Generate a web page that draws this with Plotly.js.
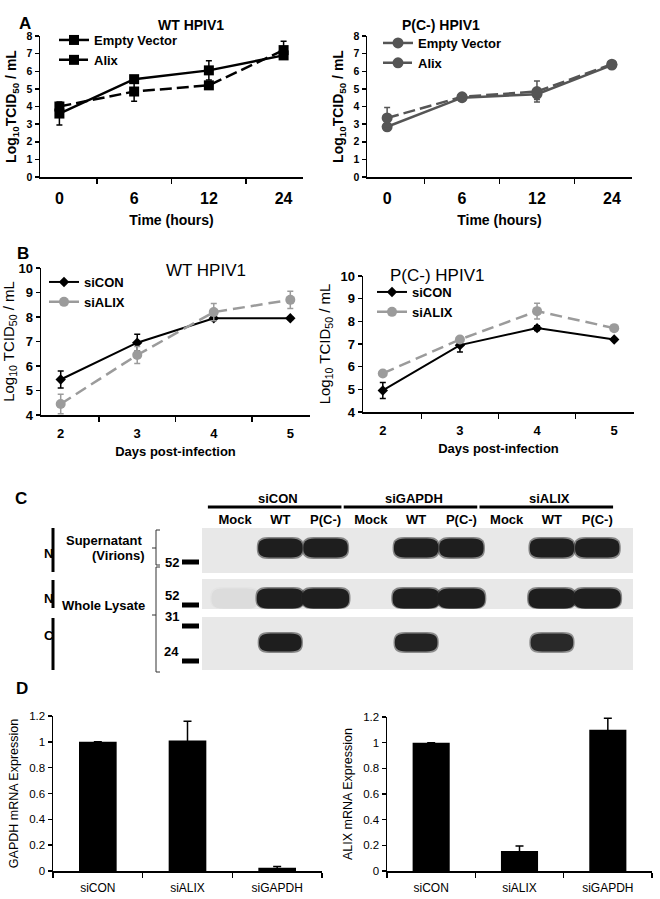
<!DOCTYPE html>
<html>
<head>
<meta charset="utf-8">
<script src="https://cdn.plot.ly/plotly-3.0.1.min.js"></script>
<style>
  html, body { margin: 0; padding: 0; background: #fff; }
  #fig { width: 660px; height: 899px; }
</style>
</head>
<body>
<div id="fig"></div>
<script>
// ---- data ----
// A: titres over time after transfection
var timeLabels = ["0", "6", "12", "24"];
var wtEmpty = [3.6, 5.55, 6.05, 6.9];
var wtEmptyErr = [0.65, 0.15, 0.55, 0.2];
var wtAlix = [4.0, 4.85, 5.2, 7.2];
var wtAlixErr = [0.2, 0.55, 0.1, 0.5];
var pcEmpty = [2.85, 4.5, 4.7, 6.35];
var pcEmptyErr = [0.15, 0.1, 0.3, 0.1];
var pcAlix = [3.35, 4.55, 4.85, 6.4];
var pcAlixErr = [0.6, 0.1, 0.6, 0.1];

// B: titres after siRNA knockdown
var dayLabels = ["2", "3", "4", "5"];
var wtSiCon = [5.45, 6.95, 7.95, 7.95];
var wtSiConErr = [0.35, 0.35, 0.05, 0.05];
var wtSiAlix = [4.45, 6.45, 8.2, 8.7];
var wtSiAlixErr = [0.4, 0.35, 0.35, 0.35];
var pcSiCon = [4.95, 6.95, 7.7, 7.2];
var pcSiConErr = [0.35, 0.3, 0.1, 0.05];
var pcSiAlix = [5.7, 7.2, 8.45, 7.7];
var pcSiAlixErr = [0.05, 0.05, 0.35, 0.05];

// C: western blot, band strength per lane (0 = no band)
var blotGroups = ["siCON", "siGAPDH", "siALIX"];
var laneLabels = ["Mock", "WT", "P(C-)", "Mock", "WT", "P(C-)", "Mock", "WT", "P(C-)"];
var supernatantN = [0, 1, 1, 0, 1, 1, 0, 1, 1];
var lysateN = [0.04, 1, 1, 0, 1, 1, 0, 1, 1];
var lysateC = [0, 1, 0, 0, 0.95, 0, 0, 0.9, 0];
var markerKDa = ["52", "52", "31", "24"];

// D: mRNA expression
var siRNA = ["siCON", "siALIX", "siGAPDH"];
var gapdhExpr = [1.0, 1.01, 0.025];
var gapdhErr = [0, 0.15, 0.01];
var alixExpr = [1.0, 0.155, 1.1];
var alixErr = [0, 0.04, 0.09];

// ---- helpers: pixel -> paper ----
var W = 660, H = 899;
function fx(p) { return p / W; }
function fy(p) { return 1 - p / H; }

var FONT = "Arial, 'Liberation Sans', sans-serif";
function bold(size) { return {family: FONT, size: size, color: "#000", weight: 700}; }
function reg(size) { return {family: FONT, size: size, color: "#000"}; }

function catAxis(dom, anchor, tfont, title, standoff) {
  return {
    domain: dom, anchor: anchor, type: "category",
    showline: true, linecolor: "#000", linewidth: 1.5,
    ticks: "outside", tickson: "boundaries", ticklen: 5, tickcolor: "#000", tickwidth: 1.5,
    ticklabelstandoff: standoff,
    showgrid: false, zeroline: false, tickfont: tfont,
    title: title, fixedrange: true
  };
}
function valAxis(dom, anchor, range, dtick, tfont, title) {
  return {
    domain: dom, anchor: anchor, range: range, dtick: dtick,
    showline: true, linecolor: "#000", linewidth: 1.5,
    ticks: "outside", ticklen: 4, tickcolor: "#000", tickwidth: 1.5,
    showgrid: false, zeroline: false, tickfont: tfont,
    title: title, fixedrange: true
  };
}

function lineTrace(x, y, err, name, xa, ya, leg, color, dash, symbol, size, width) {
  return {
    type: "scatter", mode: "lines+markers", x: x, y: y, name: name,
    xaxis: xa, yaxis: ya, legend: leg,
    line: {color: color, width: width, dash: dash},
    marker: {color: color, symbol: symbol, size: size},
    error_y: {type: "data", array: err, color: color, thickness: 1.5, width: 3}
  };
}

var traces = [
  lineTrace(timeLabels, wtEmpty, wtEmptyErr, "Empty Vector", "x", "y", "legend", "#000", "solid", "square", 10, 2.5),
  lineTrace(timeLabels, wtAlix, wtAlixErr, "Alix", "x", "y", "legend", "#000", "12px,5px", "square", 10, 2.5),
  lineTrace(timeLabels, pcEmpty, pcEmptyErr, "Empty Vector", "x2", "y2", "legend2", "#555", "solid", "circle", 11, 2.5),
  lineTrace(timeLabels, pcAlix, pcAlixErr, "Alix", "x2", "y2", "legend2", "#555", "12px,5px", "circle", 11, 2.5),
  lineTrace(dayLabels, wtSiCon, wtSiConErr, "siCON", "x3", "y3", "legend3", "#000", "solid", "diamond", 8, 2),
  lineTrace(dayLabels, wtSiAlix, wtSiAlixErr, "siALIX", "x3", "y3", "legend3", "#9b9b9b", "12px,6px", "circle", 10, 2.5),
  lineTrace(dayLabels, pcSiCon, pcSiConErr, "siCON", "x4", "y4", "legend4", "#000", "solid", "diamond", 8, 2),
  lineTrace(dayLabels, pcSiAlix, pcSiAlixErr, "siALIX", "x4", "y4", "legend4", "#9b9b9b", "12px,6px", "circle", 10, 2.5),
  {
    type: "bar", x: siRNA, y: gapdhExpr, xaxis: "x5", yaxis: "y5", showlegend: false,
    marker: {color: "#000"}, error_y: {type: "data", array: gapdhErr, color: "#000", thickness: 1.5, width: 4}
  },
  {
    type: "bar", x: siRNA, y: alixExpr, xaxis: "x6", yaxis: "y6", showlegend: false,
    marker: {color: "#000"}, error_y: {type: "data", array: alixErr, color: "#000", thickness: 1.5, width: 4}
  }
];

var yTitleA = {text: "Log<sub>10</sub>TCID<sub>50</sub> / mL", font: bold(14), standoff: 6};
var yTitleB = {text: "Log<sub>10</sub> TCID<sub>50</sub> / mL", font: reg(15), standoff: 6};

function legendAt(x, y, font) {
  return {x: fx(x), y: fy(y), xanchor: "left", yanchor: "top", bgcolor: "rgba(0,0,0,0)",
          font: font, tracegroupgap: 0, itemwidth: 30};
}

// ---- blot geometry (layout only) ----
var blotLeft = 202, blotRight = 633;
var blotRows = [
  {top: 528, bottom: 573, bandTop: 538, bandBottom: 558, half: 0.5, bands: supernatantN},
  {top: 579, bottom: 609, bandTop: 588, bandBottom: 609, half: 0.53, bands: lysateN},
  {top: 617, bottom: 670, bandTop: 633, bandBottom: 652, half: 0.48, bands: lysateC}
];

function stadium(xc, hw, y0, y1) {
  var r = 0.26, ym = (y0 + y1) / 2;
  var a = xc - hw, b = xc + hw;
  return "M" + (a + r) + "," + y0 + " L" + (b - r) + "," + y0 +
    " C" + (b - r * 0.1) + "," + y0 + " " + b + "," + (y0 + (ym - y0) * 0.45) + " " + b + "," + ym +
    " C" + b + "," + (y1 - (y1 - ym) * 0.45) + " " + (b - r * 0.1) + "," + y1 + " " + (b - r) + "," + y1 +
    " L" + (a + r) + "," + y1 +
    " C" + (a + r * 0.1) + "," + y1 + " " + a + "," + (y1 - (y1 - ym) * 0.45) + " " + a + "," + ym +
    " C" + a + "," + (y0 + (ym - y0) * 0.45) + " " + (a + r * 0.1) + "," + y0 + " " + (a + r) + "," + y0 + " Z";
}

var shapes = [];
var annotations = [];

blotRows.forEach(function (row) {
  shapes.push({type: "rect", xref: "paper", yref: "paper", x0: fx(blotLeft), x1: fx(blotRight),
               y0: fy(row.bottom), y1: fy(row.top), fillcolor: "#e8e8e8", line: {width: 0}, layer: "below"});
  row.bands.forEach(function (v, i) {
    if (v <= 0) return;
    // soft edge then dark core
    shapes.push({type: "path", xref: "x7", yref: "paper",
                 path: stadium(i, row.half + 0.02, fy(row.bandTop - 1), fy(Math.min(row.bandBottom + 1, row.bottom))),
                 fillcolor: "rgba(35,35,35," + (0.5 * v) + ")", line: {width: 0}});
    shapes.push({type: "path", xref: "x7", yref: "paper",
                 path: stadium(i, row.half - 0.01, fy(row.bandTop + 0.5), fy(row.bandBottom - 0.5)),
                 fillcolor: "rgba(30,30,30," + v + ")", line: {width: 0}});
  });
});

// group headers over the blot
blotGroups.forEach(function (g, k) {
  annotations.push({text: g, xref: "x7", yref: "paper", x: k * 3 + 0.95, y: fy(498),
                    showarrow: false, font: bold(13)});
  shapes.push({type: "line", xref: "x7", yref: "paper", x0: k * 3 - 0.6, x1: k * 3 + 2.35,
               y0: fy(507), y1: fy(507), line: {color: "#000", width: 3}});
});

// size markers
var markerY = [562, 605, 626, 661];
markerKDa.forEach(function (m, i) {
  annotations.push({text: m, xref: "paper", yref: "paper", x: fx(181), y: fy(markerY[i]),
                    xanchor: "right", showarrow: false, font: bold(13)});
  shapes.push({type: "rect", xref: "paper", yref: "paper", x0: fx(182), x1: fx(199),
               y0: fy(markerY[i] + 2.5), y1: fy(markerY[i] - 2.5), fillcolor: "#000", line: {width: 0}});
});

// left side labels and bars
[{t: "N", y: 553, a: 528, b: 572}, {t: "N", y: 598, a: 580, b: 608}, {t: "C", y: 645, a: 618, b: 670}]
  .forEach(function (s) {
    annotations.push({text: s.t, xref: "paper", yref: "paper", x: fx(42), y: fy(s.y),
                      showarrow: false, font: bold(13)});
    shapes.push({type: "line", xref: "paper", yref: "paper", x0: fx(53), x1: fx(53),
                 y0: fy(s.a), y1: fy(s.b), line: {color: "#000", width: 3}});
  });
annotations.push({text: "Supernatant", xref: "paper", yref: "paper", x: fx(145), y: fy(540),
                  xanchor: "right", showarrow: false, font: bold(13)});
annotations.push({text: "(Virions)", xref: "paper", yref: "paper", x: fx(147), y: fy(555),
                  xanchor: "right", showarrow: false, font: bold(13)});
annotations.push({text: "Whole Lysate", xref: "paper", yref: "paper", x: fx(147), y: fy(615),
                  xanchor: "right", showarrow: false, font: bold(13)});

// brackets
function bracket(top, mid, bottom) {
  var xl = fx(152), xm = fx(156), xr = fx(160);
  return "M" + xr + "," + fy(top) + " L" + xm + "," + fy(top) + " L" + xm + "," + fy(bottom) +
         " L" + xr + "," + fy(bottom) + " M" + xl + "," + fy(mid) + " L" + xm + "," + fy(mid);
}
shapes.push({type: "path", xref: "paper", yref: "paper", path: bracket(530, 548, 565), line: {color: "#333", width: 1}});
shapes.push({type: "path", xref: "paper", yref: "paper", path: bracket(567, 615, 672), line: {color: "#333", width: 1}});

// panel letters and subplot titles
[["A", 17, 12], ["B", 15, 242], ["C", 13, 498], ["D", 14, 700]].forEach(function (p) {
  annotations.push({text: p[0], xref: "paper", yref: "paper", x: fx(p[1]), y: fy(p[2]),
                    showarrow: false, font: bold(17)});
});
annotations.push({text: "WT HPIV1", xref: "paper", yref: "paper", x: fx(156), y: fy(15), showarrow: false, font: bold(14)});
annotations.push({text: "P(C-) HPIV1", xref: "paper", yref: "paper", x: fx(482), y: fy(15), showarrow: false, font: bold(14)});
annotations.push({text: "WT HPIV1", xref: "paper", yref: "paper", x: fx(164), y: fy(259), showarrow: false, font: reg(17)});
annotations.push({text: "P(C-) HPIV1", xref: "paper", yref: "paper", x: fx(486), y: fy(264), showarrow: false, font: reg(17)});

var layout = {
  width: W, height: H,
  margin: {l: 0, r: 0, t: 0, b: 0},
  paper_bgcolor: "#fff", plot_bgcolor: "rgba(0,0,0,0)",
  showlegend: true,
  bargap: 0.58,
  xaxis: catAxis([fx(40), fx(303)], "y", bold(16), {text: "Time (hours)", font: bold(14), standoff: 9}, 6),
  yaxis: valAxis([fy(177), fy(36)], "x", [0, 8], 1, bold(10.5), yTitleA),
  xaxis2: catAxis([fx(367), fx(632)], "y2", bold(16), {text: "Time (hours)", font: bold(14), standoff: 9}, 6),
  yaxis2: valAxis([fy(177), fy(36)], "x2", [0, 8], 1, bold(10.5), yTitleA),
  xaxis3: catAxis([fx(41), fx(310)], "y3", bold(13), {text: "Days post-infection", font: bold(13), standoff: 7}, 6),
  yaxis3: valAxis([fy(415), fy(268)], "x3", [4, 10], 1, bold(13), yTitleB),
  xaxis4: catAxis([fx(363), fx(634)], "y4", bold(13), {text: "Days post-infection", font: bold(13), standoff: 7}, 6),
  yaxis4: valAxis([fy(412), fy(276)], "x4", [4, 10], 1, bold(13), yTitleB),
  xaxis5: catAxis([fx(53), fx(322)], "y5", reg(12), {text: ""}, 5),
  yaxis5: valAxis([fy(871), fy(716)], "x5", [0, 1.2], 0.2, reg(11.5),
                  {text: "GAPDH mRNA Expression", font: reg(12.5), standoff: 8}),
  xaxis6: catAxis([fx(387), fx(652)], "y6", reg(12), {text: ""}, 5),
  yaxis6: valAxis([fy(871), fy(717)], "x6", [0, 1.2], 0.2, reg(11.5),
                  {text: "ALIX mRNA Expression", font: reg(12.5), standoff: 8}),
  xaxis7: {domain: [fx(blotLeft), fx(blotRight)], anchor: "y7", range: [-0.73, 8.79], side: "top",
           tickmode: "array", tickvals: laneLabels.map(function (_, i) { return i; }), ticktext: laneLabels,
           ticks: "", showline: false, showgrid: false, zeroline: false, tickfont: bold(13), fixedrange: true},
  yaxis7: {domain: [fy(670), fy(528)], anchor: "x7", range: [0, 1], visible: false, fixedrange: true},
  legend: legendAt(54, 25, bold(13)),
  legend2: legendAt(378, 28, bold(13)),
  legend3: legendAt(44, 267, bold(13)),
  legend4: legendAt(372, 277, bold(13)),
  shapes: shapes,
  annotations: annotations
};

Plotly.newPlot("fig", traces, layout, {staticPlot: true, displayModeBar: false});
</script>
</body>
</html>
